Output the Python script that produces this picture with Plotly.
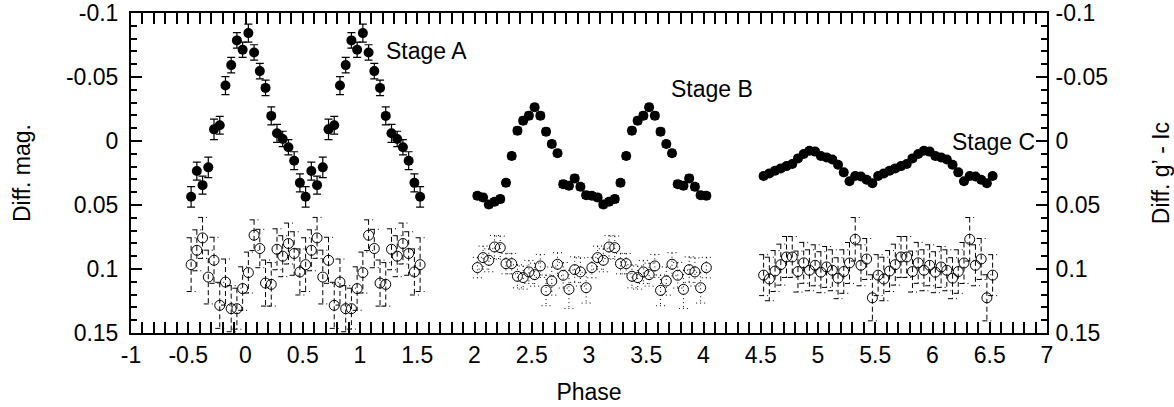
import plotly.graph_objects as go

# ---------------- data ----------------
phase_A = [-0.475, -0.425, -0.375, -0.325, -0.275, -0.225, -0.175, -0.125, -0.075, -0.025,
           0.025, 0.075, 0.125, 0.175, 0.225, 0.275, 0.325, 0.375, 0.425, 0.475,
           0.525, 0.575, 0.625, 0.675, 0.725, 0.775, 0.825, 0.875, 0.925, 0.975,
           1.025, 1.075, 1.125, 1.175, 1.225, 1.275, 1.325, 1.375, 1.425, 1.475, 1.525]
mag_A = [0.0436, 0.0235, 0.0345, 0.0206, -0.0091, -0.0123, -0.0433, -0.0593, -0.0786, -0.0713,
         -0.0843, -0.0692, -0.0546, -0.0415, -0.0196, -0.0060, -0.0016, 0.0049, 0.0154, 0.0327,
         0.0436, 0.0235, 0.0345, 0.0206, -0.0091, -0.0123, -0.0433, -0.0593, -0.0786, -0.0713,
         -0.0843, -0.0692, -0.0546, -0.0415, -0.0196, -0.0060, -0.0016, 0.0049, 0.0154, 0.0327,
         0.0436]
mag_A_err = [0.008, 0.007, 0.007, 0.008, 0.008, 0.007, 0.007, 0.006, 0.006, 0.006,
             0.007, 0.006, 0.006, 0.006, 0.007, 0.007, 0.006, 0.006, 0.007, 0.007,
             0.008, 0.007, 0.007, 0.008, 0.008, 0.007, 0.007, 0.006, 0.006, 0.006,
             0.007, 0.006, 0.006, 0.006, 0.007, 0.007, 0.006, 0.006, 0.007, 0.007,
             0.008]
col_A = [0.0966, 0.0854, 0.0757, 0.1063, 0.0932, 0.1284, 0.1102, 0.1310, 0.1310, 0.1153,
         0.1028, 0.0736, 0.0840, 0.1110, 0.1120, 0.0846, 0.0900, 0.0801, 0.0879, 0.1023,
         0.0966, 0.0854, 0.0757, 0.1063, 0.0932, 0.1284, 0.1102, 0.1310, 0.1310, 0.1153,
         0.1028, 0.0736, 0.0840, 0.1110, 0.1120, 0.0846, 0.0900, 0.0801, 0.0879, 0.1023,
         0.0966]
col_A_err = [0.021, 0.016, 0.016, 0.021, 0.018, 0.018, 0.018, 0.018, 0.016, 0.017,
             0.016, 0.012, 0.015, 0.018, 0.017, 0.016, 0.016, 0.016, 0.017, 0.018,
             0.021, 0.016, 0.016, 0.021, 0.018, 0.018, 0.018, 0.018, 0.016, 0.017,
             0.016, 0.012, 0.015, 0.018, 0.017, 0.016, 0.016, 0.016, 0.017, 0.018,
             0.021]

phase_B = [2.025, 2.075, 2.125, 2.175, 2.225, 2.275, 2.325, 2.375, 2.425, 2.475,
           2.525, 2.575, 2.625, 2.675, 2.725, 2.775, 2.825, 2.875, 2.925, 2.975,
           3.025, 3.075, 3.125, 3.175, 3.225, 3.275, 3.325, 3.375, 3.425, 3.475,
           3.525, 3.575, 3.625, 3.675, 3.725, 3.775, 3.825, 3.875, 3.925, 3.975, 4.025]
mag_B = [0.0428, 0.0441, 0.0496, 0.0475, 0.0454, 0.0326, 0.0117, -0.0081, -0.0159, -0.0198,
         -0.0264, -0.0198, -0.0073, 0.0023, 0.0096, 0.0337, 0.0350, 0.0292, 0.0358, 0.0423,
         0.0428, 0.0441, 0.0496, 0.0475, 0.0454, 0.0326, 0.0117, -0.0081, -0.0159, -0.0198,
         -0.0264, -0.0198, -0.0073, 0.0023, 0.0096, 0.0337, 0.0350, 0.0292, 0.0358, 0.0423,
         0.0428]
mag_B_err = [0.0025] * 41
col_B = [0.0989, 0.0911, 0.0932, 0.0828, 0.0833, 0.0958, 0.0958, 0.1057, 0.1067, 0.1023,
         0.1044, 0.0976, 0.1167, 0.1094, 0.0963, 0.1049, 0.1159, 0.1005, 0.1023, 0.1146,
         0.0989, 0.0911, 0.0932, 0.0828, 0.0833, 0.0958, 0.0958, 0.1057, 0.1067, 0.1023,
         0.1044, 0.0976, 0.1167, 0.1094, 0.0963, 0.1049, 0.1159, 0.1005, 0.1023, 0.1146,
         0.0989]
col_B_err = [0.008, 0.009, 0.009, 0.009, 0.009, 0.008, 0.008, 0.009, 0.009, 0.009,
             0.009, 0.009, 0.012, 0.011, 0.009, 0.010, 0.015, 0.010, 0.011, 0.012,
             0.008, 0.009, 0.009, 0.009, 0.009, 0.008, 0.008, 0.009, 0.009, 0.009,
             0.009, 0.009, 0.012, 0.011, 0.009, 0.010, 0.015, 0.010, 0.011, 0.012,
             0.008]

phase_C = [4.525, 4.575, 4.625, 4.675, 4.725, 4.775, 4.825, 4.875, 4.925, 4.975,
           5.025, 5.075, 5.125, 5.175, 5.225, 5.275, 5.325, 5.375, 5.425, 5.475,
           5.525, 5.575, 5.625, 5.675, 5.725, 5.775, 5.825, 5.875, 5.925, 5.975,
           6.025, 6.075, 6.125, 6.175, 6.225, 6.275, 6.325, 6.375, 6.425, 6.475, 6.525]
mag_C = [0.0274, 0.0253, 0.0232, 0.0214, 0.0196, 0.0180, 0.0136, 0.0102, 0.0076, 0.0083,
         0.0117, 0.0128, 0.0144, 0.0185, 0.0245, 0.0315, 0.0274, 0.0278, 0.0303, 0.0330,
         0.0274, 0.0253, 0.0232, 0.0214, 0.0196, 0.0180, 0.0136, 0.0102, 0.0076, 0.0083,
         0.0117, 0.0128, 0.0144, 0.0185, 0.0245, 0.0315, 0.0274, 0.0278, 0.0303, 0.0330,
         0.0274]
mag_C_err = [0.002] * 41
col_C = [0.1048, 0.1078, 0.1016, 0.0966, 0.0906, 0.0906, 0.1020, 0.0952, 0.1010, 0.0971,
         0.1025, 0.0984, 0.1010, 0.1072, 0.1020, 0.0953, 0.0768, 0.0971, 0.0922, 0.1225,
         0.1048, 0.1078, 0.1016, 0.0966, 0.0906, 0.0906, 0.1020, 0.0952, 0.1010, 0.0971,
         0.1025, 0.0984, 0.1010, 0.1072, 0.1020, 0.0953, 0.0768, 0.0971, 0.0922, 0.1225,
         0.1048]
col_C_err = [0.016, 0.017, 0.016, 0.016, 0.016, 0.016, 0.016, 0.016, 0.016, 0.016,
             0.016, 0.016, 0.016, 0.016, 0.017, 0.016, 0.017, 0.016, 0.016, 0.018,
             0.016, 0.017, 0.016, 0.016, 0.016, 0.016, 0.016, 0.016, 0.016, 0.016,
             0.016, 0.016, 0.016, 0.016, 0.017, 0.016, 0.017, 0.016, 0.016, 0.018,
             0.016]

x_tickvals = [-1, -0.5, 0, 0.5, 1, 1.5, 2, 2.5, 3, 3.5, 4, 4.5, 5, 5.5, 6, 6.5, 7]
x_ticktext = ["-1", "-0.5", "0", "0.5", "1", "1.5", "2", "2.5", "3", "3.5", "4",
              "4.5", "5", "5.5", "6", "6.5", "7"]
y_tickvals = [-0.1, -0.05, 0, 0.05, 0.1, 0.15]
y_ticktext = ["-0.1", "-0.05", "0", "0.05", "0.1", "0.15"]

stage_labels = ["Stage A", "Stage B", "Stage C"]
stage_label_x = [1.21, 3.70, 6.15]
stage_label_y = [-0.070, -0.0405, 0.0005]

# ---------------- layout geometry ----------------
W, H = 1174, 407
ML, MR, MT, MB = 131, 127, 13, 74
X_RANGE = [-1, 7]
Y_RANGE = [0.15, -0.1]
FONT = "Liberation Sans, Arial, sans-serif"
FS = 23
px_per_x = (W - ML - MR) / (X_RANGE[1] - X_RANGE[0])


def bar_path(xs, ys, es, cap_px):
    """Error-bar segments (caps + stem) built from the data through the x scale."""
    h = cap_px / px_per_x
    bx, by = [], []
    for x, y, e in zip(xs, ys, es):
        bx += [x - h, x + h, None, x, x, None, x - h, x + h, None]
        by += [y - e, y - e, None, y - e, y + e, None, y + e, y + e, None]
    return bx, by


fig = go.Figure()

# open-circle series (colour index) with dashed / dotted error bars
for xs, ys, es, dash in [(phase_A, col_A, col_A_err, "5px,3px"),
                         (phase_B, col_B, col_B_err, "1px,3px"),
                         (phase_C, col_C, col_C_err, "5px,3px")]:
    bx, by = bar_path(xs, ys, es, 4.5)
    fig.add_trace(go.Scatter(x=bx, y=by, mode="lines",
                             line=dict(color="black", width=1, dash=dash),
                             hoverinfo="skip", showlegend=False))
    fig.add_trace(go.Scatter(x=xs, y=ys, mode="markers",
                             marker=dict(symbol="circle-open", size=10,
                                         color="black", line=dict(width=1, color="black")),
                             showlegend=False))

# filled-circle series (magnitude)
for xs, ys, es in [(phase_A, mag_A, mag_A_err),
                   (phase_B, mag_B, mag_B_err),
                   (phase_C, mag_C, mag_C_err)]:
    fig.add_trace(go.Scatter(x=xs, y=ys, mode="markers",
                             marker=dict(symbol="circle", size=10, color="black"),
                             error_y=dict(type="data", array=es, visible=True,
                                          color="black", thickness=1.2, width=4),
                             showlegend=False))

# dummy trace so the right-hand axis is drawn
fig.add_trace(go.Scatter(x=[None], y=[None], yaxis="y2", showlegend=False,
                         hoverinfo="skip"))

for txt, tx, ty in zip(stage_labels, stage_label_x, stage_label_y):
    fig.add_annotation(x=tx, y=ty, text=txt, showarrow=False, xanchor="left",
                       yanchor="middle", font=dict(family=FONT, size=FS, color="black"))

axis_common = dict(showgrid=False, zeroline=False, showline=True, linecolor="black",
                   linewidth=2, ticks="inside", ticklen=11, tickwidth=1.5,
                   tickcolor="black", automargin=False,
                   tickfont=dict(family=FONT, size=FS, color="black"))
minor_common = dict(ticks="inside", ticklen=6, tickwidth=1.5, tickcolor="black")

fig.update_layout(
    template="none",
    width=W, height=H,
    margin=dict(l=ML, r=MR, t=MT, b=MB, pad=0, autoexpand=False),
    paper_bgcolor="white", plot_bgcolor="white",
    font=dict(family=FONT, size=FS, color="black"),
    showlegend=False,
    xaxis=dict(range=X_RANGE, tickmode="array", tickvals=x_tickvals, ticktext=x_ticktext,
               mirror="allticks", minor=dict(tick0=0, dtick=0.1, **minor_common),
               title=dict(text="Phase", standoff=17, font=dict(family=FONT, size=FS)),
               **axis_common),
    yaxis=dict(range=Y_RANGE, tickmode="array", tickvals=y_tickvals, ticktext=y_ticktext,
               mirror=True, minor=dict(tick0=0, dtick=0.01, **minor_common),
               ticklabelstandoff=6,
               title=dict(text="Diff. mag.", standoff=29, font=dict(family=FONT, size=FS)),
               **axis_common),
    yaxis2=dict(range=Y_RANGE, overlaying="y", side="right", tickmode="array",
                tickvals=y_tickvals, ticktext=y_ticktext,
                minor=dict(tick0=0, dtick=0.01, **minor_common),
                ticklabelstandoff=2,
                title=dict(text="Diff. g\u2019 - Ic", standoff=46, font=dict(family=FONT, size=FS)),
                **axis_common),
)

fig.write_html("out.html", config={"displayModeBar": False})

# remove the browser's default page margin so the figure sits at (0, 0)
with open("out.html", "r", encoding="utf-8") as f:
    page = f.read()
page = page.replace("<body>", '<body style="margin:0;padding:0;">', 1)
with open("out.html", "w", encoding="utf-8") as f:
    f.write(page)
